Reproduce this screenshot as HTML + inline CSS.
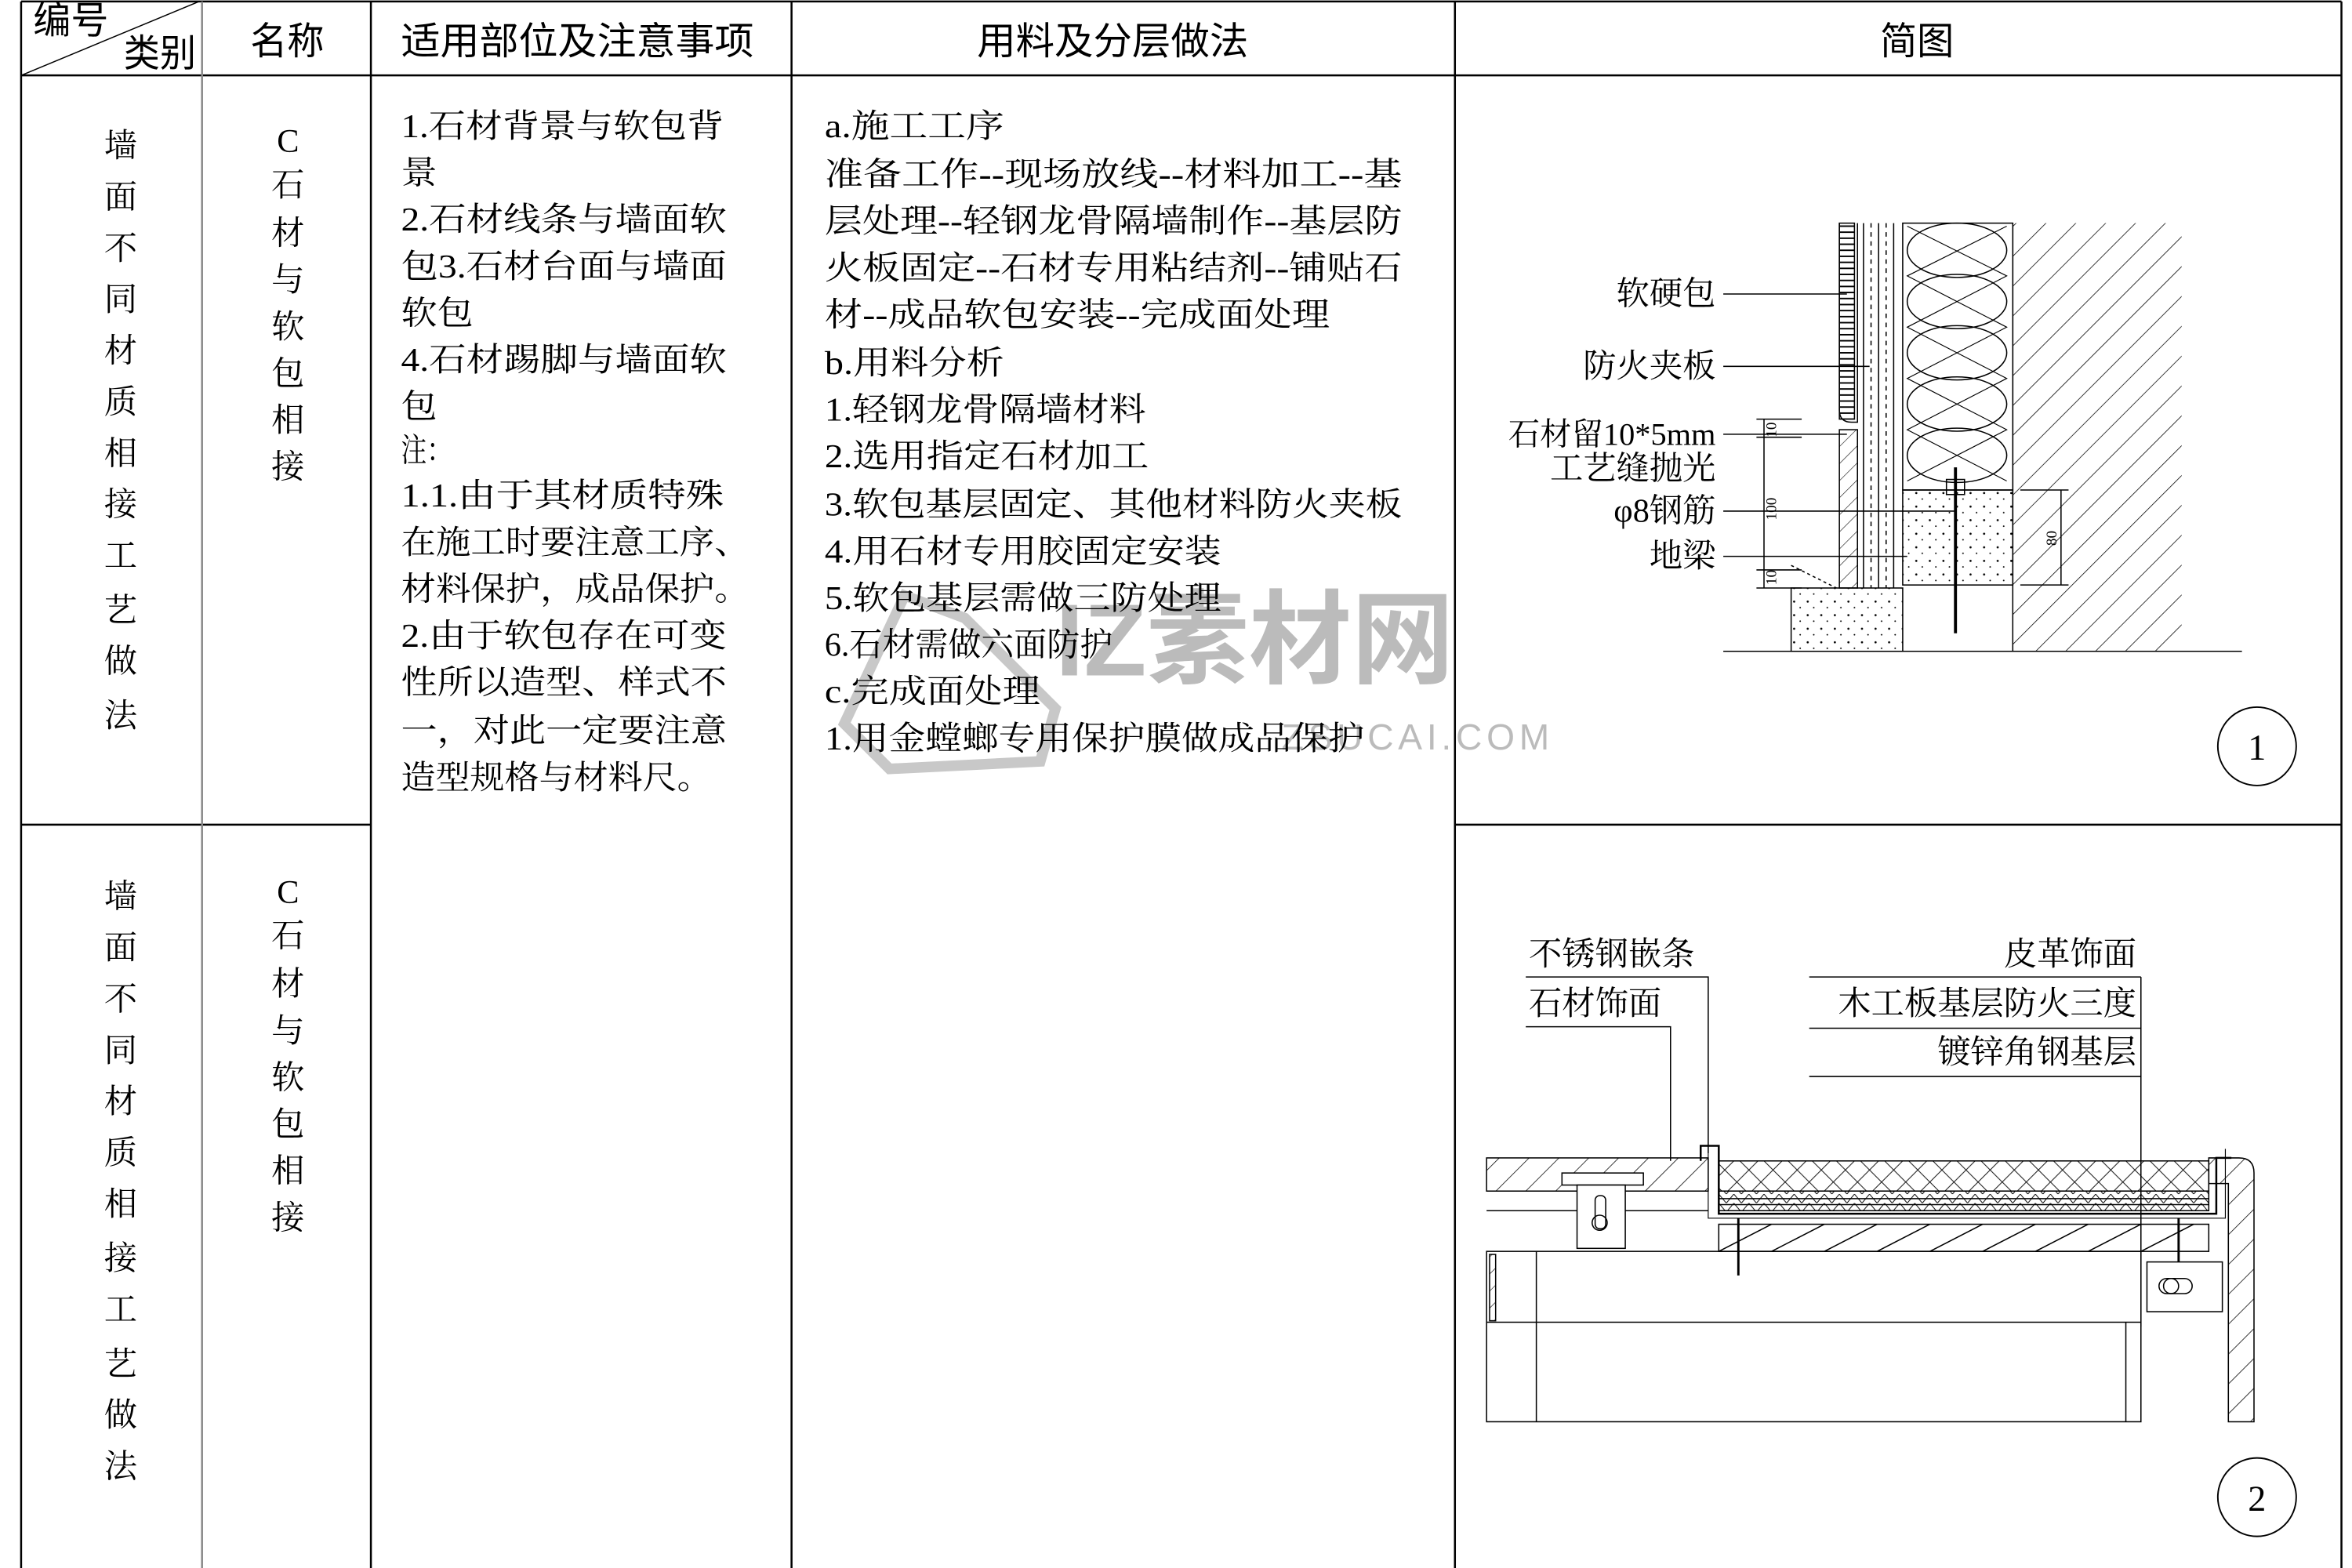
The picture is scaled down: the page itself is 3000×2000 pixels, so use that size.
<!DOCTYPE html>
<html><head><meta charset="utf-8"><style>
html,body{margin:0;padding:0;background:#fff;width:3000px;height:2000px;overflow:hidden}
svg{display:block}
text{font-family:"Liberation Serif","Noto Serif CJK SC",serif;fill:#000}
.t{font-size:22px}
.h{font-size:25px;font-family:"Liberation Sans","Noto Sans CJK SC",sans-serif}
</style></head><body>
<svg width="3000" height="2000" viewBox="0 0 1560 1040" preserveAspectRatio="none" xmlns="http://www.w3.org/2000/svg">
<defs>
<pattern id="hat" width="14" height="14" patternUnits="userSpaceOnUse" patternTransform="rotate(45)"><line x1="0" y1="0" x2="0" y2="14" stroke="#000" stroke-width="0.8"/></pattern>
<pattern id="hat2" width="8" height="8" patternUnits="userSpaceOnUse" patternTransform="rotate(45)"><line x1="0" y1="0" x2="0" y2="8" stroke="#000" stroke-width="0.6"/></pattern>
<pattern id="xh" width="16" height="16" patternUnits="userSpaceOnUse"><path d="M0 0L16 16M16 0L0 16" stroke="#000" stroke-width="0.5"/></pattern>
<pattern id="dot" width="9" height="9" patternUnits="userSpaceOnUse"><circle cx="2" cy="3" r="0.7"/><circle cx="6" cy="7" r="0.5"/></pattern>
<pattern id="vt" width="3" height="4" patternUnits="userSpaceOnUse"><line x1="0" y1="2" x2="3" y2="2" stroke="#000" stroke-width="1"/></pattern>
<pattern id="chev" width="10" height="6" patternUnits="userSpaceOnUse"><path d="M0 0L5 6L10 0" fill="none" stroke="#000" stroke-width="0.5"/></pattern>
</defs>
<g stroke="#000" fill="none" stroke-width="1.3">
<line x1="14" y1="1" x2="1553" y2="1"/>
<line x1="14" y1="50" x2="1553" y2="50"/>
<line x1="14" y1="1043" x2="1553" y2="1043"/>
<line x1="14" y1="547" x2="246" y2="547"/>
<line x1="965" y1="547" x2="1553" y2="547"/>
<line x1="14" y1="1" x2="14" y2="1043"/>
<line x1="134" y1="1" x2="134" y2="1043" stroke="#888"/>
<line x1="246" y1="1" x2="246" y2="1043"/>
<line x1="525" y1="1" x2="525" y2="1043"/>
<line x1="965" y1="1" x2="965" y2="1043"/>
<line x1="1553" y1="1" x2="1553" y2="1043"/>
<line x1="14" y1="50" x2="132" y2="1" stroke-width="0.8"/>
</g>
<!-- watermark -->
<text x="700" y="448" style="font-size:68px;font-weight:bold;fill:#bbb;font-family:'Liberation Sans','Noto Sans CJK SC',sans-serif">IZ素材网</text>
<text x="850" y="497" style="font-size:24px;fill:#bbb;letter-spacing:3px;font-family:'Liberation Sans',sans-serif">ZSUCAI.COM</text>
<path d="M560 480L600 395L640 410L700 470L690 505L590 510Z" fill="none" stroke="#c8c8c8" stroke-width="7"/>
<text x="22" y="22" class="h" textLength="50" lengthAdjust="spacingAndGlyphs">编号</text>
<text x="82" y="44" class="h" textLength="48" lengthAdjust="spacingAndGlyphs">类别</text>
<text x="166" y="36" class="h" textLength="49" lengthAdjust="spacingAndGlyphs">名称</text>
<text x="266" y="36" class="h" textLength="234" lengthAdjust="spacingAndGlyphs">适用部位及注意事项</text>
<text x="648" y="36" class="h" textLength="180" lengthAdjust="spacingAndGlyphs">用料及分层做法</text>
<text x="1247" y="36" class="h" textLength="49" lengthAdjust="spacingAndGlyphs">简图</text>
<g text-anchor="middle">
<text x="80" y="104" class="t">墙</text><text x="80" y="138" class="t">面</text><text x="80" y="172" class="t">不</text><text x="80" y="206" class="t">同</text><text x="80" y="240" class="t">材</text><text x="80" y="274" class="t">质</text><text x="80" y="308" class="t">相</text><text x="80" y="342" class="t">接</text><text x="80" y="376" class="t">工</text><text x="80" y="412" class="t">艺</text><text x="80" y="446" class="t">做</text><text x="80" y="482" class="t">法</text>
<text x="80" y="602" class="t">墙</text><text x="80" y="636" class="t">面</text><text x="80" y="670" class="t">不</text><text x="80" y="704" class="t">同</text><text x="80" y="738" class="t">材</text><text x="80" y="772" class="t">质</text><text x="80" y="806" class="t">相</text><text x="80" y="842" class="t">接</text><text x="80" y="876" class="t">工</text><text x="80" y="912" class="t">艺</text><text x="80" y="946" class="t">做</text><text x="80" y="980" class="t">法</text>
<text x="191" y="101" class="t">C</text><text x="191" y="130" class="t">石</text><text x="191" y="162" class="t">材</text><text x="191" y="193" class="t">与</text><text x="191" y="224" class="t">软</text><text x="191" y="255" class="t">包</text><text x="191" y="286" class="t">相</text><text x="191" y="317" class="t">接</text>
<text x="191" y="599" class="t">C</text><text x="191" y="628" class="t">石</text><text x="191" y="660" class="t">材</text><text x="191" y="691" class="t">与</text><text x="191" y="722" class="t">软</text><text x="191" y="753" class="t">包</text><text x="191" y="784" class="t">相</text><text x="191" y="815" class="t">接</text>
</g>
<g lengthAdjust="spacingAndGlyphs">
<text x="266" y="91" class="t" textLength="214" lengthAdjust="spacingAndGlyphs">1.石材背景与软包背</text>
<text x="266" y="122" class="t" textLength="24" lengthAdjust="spacingAndGlyphs">景</text>
<text x="266" y="153" class="t" textLength="216" lengthAdjust="spacingAndGlyphs">2.石材线条与墙面软</text>
<text x="266" y="184" class="t" textLength="216" lengthAdjust="spacingAndGlyphs">包3.石材台面与墙面</text>
<text x="266" y="215" class="t" textLength="48" lengthAdjust="spacingAndGlyphs">软包</text>
<text x="266" y="246" class="t" textLength="216" lengthAdjust="spacingAndGlyphs">4.石材踢脚与墙面软</text>
<text x="266" y="277" class="t" textLength="24" lengthAdjust="spacingAndGlyphs">包</text>
<text x="266" y="306" class="t" textLength="34" lengthAdjust="spacingAndGlyphs">注：</text>
<text x="266" y="336" class="t" textLength="214" lengthAdjust="spacingAndGlyphs">1.1.由于其材质特殊</text>
<text x="266" y="367" class="t" textLength="231" lengthAdjust="spacingAndGlyphs">在施工时要注意工序、</text>
<text x="266" y="398" class="t" textLength="231" lengthAdjust="spacingAndGlyphs">材料保护，成品保护。</text>
<text x="266" y="429" class="t" textLength="216" lengthAdjust="spacingAndGlyphs">2.由于软包存在可变</text>
<text x="266" y="460" class="t" textLength="216" lengthAdjust="spacingAndGlyphs">性所以造型、样式不</text>
<text x="266" y="492" class="t" textLength="216" lengthAdjust="spacingAndGlyphs">一，对此一定要注意</text>
<text x="266" y="523" class="t" textLength="206" lengthAdjust="spacingAndGlyphs">造型规格与材料尺。</text>
<text x="547" y="91" class="t" textLength="119" lengthAdjust="spacingAndGlyphs">a.施工工序</text>
<text x="547" y="123" class="t" textLength="383" lengthAdjust="spacingAndGlyphs">准备工作--现场放线--材料加工--基</text>
<text x="547" y="154" class="t" textLength="383" lengthAdjust="spacingAndGlyphs">层处理--轻钢龙骨隔墙制作--基层防</text>
<text x="547" y="185" class="t" textLength="383" lengthAdjust="spacingAndGlyphs">火板固定--石材专用粘结剂--铺贴石</text>
<text x="547" y="216" class="t" textLength="335" lengthAdjust="spacingAndGlyphs">材--成品软包安装--完成面处理</text>
<text x="547" y="248" class="t" textLength="119" lengthAdjust="spacingAndGlyphs">b.用料分析</text>
<text x="547" y="279" class="t" textLength="213" lengthAdjust="spacingAndGlyphs">1.轻钢龙骨隔墙材料</text>
<text x="547" y="310" class="t" textLength="215" lengthAdjust="spacingAndGlyphs">2.选用指定石材加工</text>
<text x="547" y="342" class="t" textLength="383" lengthAdjust="spacingAndGlyphs">3.软包基层固定、其他材料防火夹板</text>
<text x="547" y="373" class="t" textLength="263" lengthAdjust="spacingAndGlyphs">4.用石材专用胶固定安装</text>
<text x="547" y="404" class="t" textLength="263" lengthAdjust="spacingAndGlyphs">5.软包基层需做三防处理</text>
<text x="547" y="435" class="t" textLength="191" lengthAdjust="spacingAndGlyphs">6.石材需做六面防护</text>
<text x="547" y="466" class="t" textLength="143" lengthAdjust="spacingAndGlyphs">c.完成面处理</text>
<text x="547" y="497" class="t" textLength="358" lengthAdjust="spacingAndGlyphs">1.用金螳螂专用保护膜做成品保护</text>
</g>
<!-- drawing 1 -->
<g stroke="#000" fill="none" stroke-width="0.8">
<rect x="1335" y="148" width="112" height="284" fill="url(#hat)" stroke="none"/>
<line x1="1335" y1="148" x2="1335" y2="432"/>
<rect x="1262" y="148" width="73" height="177" fill="#fff"/>
<ellipse cx="1298" cy="166" rx="33" ry="18"/><ellipse cx="1298" cy="200" rx="33" ry="18"/><ellipse cx="1298" cy="234" rx="33" ry="18"/><ellipse cx="1298" cy="268" rx="33" ry="18"/><ellipse cx="1298" cy="302" rx="33" ry="18"/>
<path d="M1265 150L1331 183L1265 217L1331 251L1265 285L1331 319M1331 150L1265 183L1331 217L1265 251L1331 285L1265 319" stroke-width="0.6"/>
<rect x="1262" y="325" width="73" height="63" fill="url(#dot)"/>
<rect x="1220" y="148" width="10" height="130" fill="url(#vt)"/>
<path d="M1220 148V272Q1220 280 1228 280H1232V148"/>
<rect x="1220" y="285" width="12" height="105" fill="url(#hat2)"/>
<line x1="1236" y1="148" x2="1236" y2="390"/><line x1="1241" y1="148" x2="1241" y2="390" stroke-dasharray="3 3"/><line x1="1246" y1="148" x2="1246" y2="390"/><line x1="1251" y1="148" x2="1251" y2="390" stroke-dasharray="3 3"/><line x1="1256" y1="148" x2="1256" y2="390"/>
<rect x="1188" y="390" width="74" height="42" fill="url(#dot)"/>
<line x1="1188" y1="375" x2="1218" y2="390" stroke-dasharray="2 2"/>
<line x1="1297" y1="310" x2="1297" y2="420" stroke-width="2"/>
<rect x="1291" y="318" width="12" height="10"/>
<line x1="1143" y1="432" x2="1487" y2="432"/>
<line x1="1170" y1="278" x2="1170" y2="390"/>
<line x1="1165" y1="278" x2="1195" y2="278"/><line x1="1165" y1="290" x2="1195" y2="290"/><line x1="1165" y1="378" x2="1195" y2="378"/><line x1="1165" y1="390" x2="1195" y2="390"/>
<line x1="1367" y1="325" x2="1367" y2="388"/><line x1="1340" y1="325" x2="1372" y2="325"/><line x1="1340" y1="388" x2="1372" y2="388"/>
<line x1="1143" y1="195" x2="1225" y2="195"/>
<line x1="1143" y1="243" x2="1240" y2="243"/>
<line x1="1143" y1="288" x2="1225" y2="288"/>
<line x1="1143" y1="339" x2="1297" y2="339"/>
<line x1="1143" y1="369" x2="1265" y2="369"/>
<circle cx="1497" cy="495" r="26" stroke-width="1"/>
<circle cx="1497" cy="993" r="26" stroke-width="1"/>
</g>
<text x="1178" y="290" transform="rotate(-90 1178 290)" style="font-size:10px">10</text>
<text x="1178" y="345" transform="rotate(-90 1178 345)" style="font-size:10px">100</text>
<text x="1178" y="388" transform="rotate(-90 1178 388)" style="font-size:10px">10</text>
<text x="1364" y="362" transform="rotate(-90 1364 362)" style="font-size:10px">80</text>
<g text-anchor="end">
<text x="1138" y="202" class="t">软硬包</text>
<text x="1138" y="250" class="t">防火夹板</text>
<text x="1138" y="295" class="t" style="font-size:21px">石材留10*5mm</text>
<text x="1138" y="318" class="t">工艺缝抛光</text>
<text x="1138" y="346" class="t">φ8钢筋</text>
<text x="1138" y="376" class="t">地梁</text>
</g>
<text x="1497" y="504" class="t" style="font-size:24px" text-anchor="middle">1</text>
<text x="1497" y="1002" class="t" style="font-size:24px" text-anchor="middle">2</text>
<!-- drawing 2 -->
<text x="1014" y="640" class="t">不锈钢嵌条</text>
<text x="1014" y="673" class="t">石材饰面</text>
<text x="1417" y="640" class="t" text-anchor="end">皮革饰面</text>
<text x="1417" y="673" class="t" text-anchor="end">木工板基层防火三度</text>
<text x="1417" y="705" class="t" text-anchor="end">镀锌角钢基层</text>
<g stroke="#000" fill="none" stroke-width="0.8">
<polyline points="1012,648 1133,648 1133,765"/>
<polyline points="1012,681 1108,681 1108,770"/>
<line x1="1200" y1="648" x2="1420" y2="648"/>
<line x1="1200" y1="682" x2="1420" y2="682"/>
<line x1="1200" y1="714" x2="1420" y2="714"/>
<line x1="1420" y1="648" x2="1420" y2="880"/>
<rect x="986" y="768" width="147" height="22" fill="url(#hat)"/>
<line x1="986" y1="803" x2="1133" y2="803"/>
<rect x="1036" y="778" width="54" height="8" fill="#fff"/>
<rect x="1046" y="786" width="32" height="42" fill="#fff"/>
<rect x="1058" y="793" width="7" height="22" rx="3"/><circle cx="1061" cy="811" r="5"/>
<rect x="1140" y="770" width="325" height="20" fill="url(#xh)"/>
<rect x="1140" y="790" width="325" height="13" fill="url(#chev)"/>
<line x1="1140" y1="795" x2="1465" y2="795"/><line x1="1140" y1="799" x2="1465" y2="799"/>
<path d="M1128 770V760H1140V805H1470V768H1480" stroke-width="1.3"/>
<path d="M1133 765V808H1476V762" stroke-width="0.6"/>
<rect x="1140" y="812" width="325" height="18"/>
<path d="M1140 830L1175 812M1175 830L1210 812M1210 830L1245 812M1245 830L1280 812M1280 830L1315 812M1315 830L1350 812M1350 830L1385 812M1385 830L1420 812M1420 830L1455 812"/>
<line x1="1153" y1="808" x2="1153" y2="846" stroke-width="1.5"/>
<line x1="1445" y1="808" x2="1445" y2="846" stroke-width="1.5"/>
<path d="M1465 768H1485Q1495 768 1495 778V943H1478V785H1465Z" fill="url(#hat)"/>
<rect x="986" y="830" width="434" height="113"/>
<line x1="986" y1="877" x2="1420" y2="877"/>
<line x1="1019" y1="830" x2="1019" y2="943"/>
<line x1="1410" y1="877" x2="1410" y2="943"/>
<rect x="988" y="832" width="4" height="44" fill="url(#hat2)"/>
<rect x="1424" y="837" width="50" height="33" fill="#fff"/>
<rect x="1432" y="848" width="22" height="10" rx="5"/><circle cx="1440" cy="853" r="5"/>
</g>
</svg>
</body></html>
